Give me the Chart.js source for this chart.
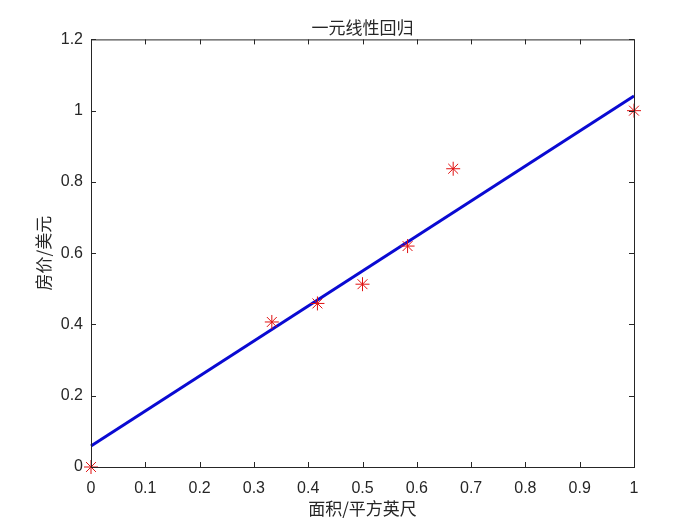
<!DOCTYPE html>
<html>
<head>
<meta charset="utf-8">
<script src="https://cdn.jsdelivr.net/npm/chart.js@4"></script>
<style>
  body { margin: 0; background: #fff; }
</style>
</head>
<body>
<canvas id="regChart" width="700" height="525"></canvas>
<script>
// normalized area vs price samples
const areaX = [0, 0.333, 0.417, 0.5, 0.583, 0.667, 1];
const priceY = [0, 0.407, 0.459, 0.513, 0.62, 0.837, 1];
// fitted line end points
const fitX = [0, 1];
const fitY = [0.059, 1.041];
const xTicks = [0, 0.1, 0.2, 0.3, 0.4, 0.5, 0.6, 0.7, 0.8, 0.9, 1];
const xTickLabels = ["0", "0.1", "0.2", "0.3", "0.4", "0.5", "0.6", "0.7", "0.8", "0.9", "1"];
const yTicks = [0, 0.2, 0.4, 0.6, 0.8, 1, 1.2];
const yTickLabels = ["0", "0.2", "0.4", "0.6", "0.8", "1", "1.2"];

const axisColor = "#262626";
const latin = "'Liberation Sans', Arial, sans-serif";
const cjk = "'Noto Sans CJK SC', sans-serif";

// MATLAB-like box with inward ticks
const boxPlugin = {
  id: "box",
  afterDatasetsDraw(chart) {
    const { ctx, chartArea: a, scales } = chart;
    ctx.save();
    ctx.strokeStyle = axisColor;
    ctx.lineWidth = 1;
    ctx.strokeRect(a.left + 0.5, a.top + 0.5, a.right - a.left, a.bottom - a.top);
    const len = 5;
    ctx.beginPath();
    xTicks.forEach(function (v) {
      const px = Math.round(scales.x.getPixelForValue(v)) + 0.5;
      ctx.moveTo(px, a.bottom); ctx.lineTo(px, a.bottom - len);
      ctx.moveTo(px, a.top); ctx.lineTo(px, a.top + len);
    });
    yTicks.forEach(function (v) {
      const py = Math.round(scales.y.getPixelForValue(v)) + 0.5;
      ctx.moveTo(a.left, py); ctx.lineTo(a.left + len, py);
      ctx.moveTo(a.right, py); ctx.lineTo(a.right - len, py);
    });
    ctx.stroke();
    ctx.restore();
  }
};

const chart = new Chart(document.getElementById("regChart").getContext("2d"), {
  type: "scatter",
  data: {
    datasets: [
      {
        type: "line",
        label: "fit",
        data: fitX.map(function (x, i) { return { x: x, y: fitY[i] }; }),
        borderColor: "#0a0ad2",
        borderWidth: 3,
        pointRadius: 0,
        fill: false,
        tension: 0,
        clip: false,
        order: 2
      },
      {
        label: "samples",
        data: areaX.map(function (x, i) { return { x: x, y: priceY[i] }; }),
        pointStyle: "star",
        pointRadius: 7,
        borderColor: "#e01010",
        backgroundColor: "#e01010",
        borderWidth: 1,
        clip: false,
        order: 1
      }
    ]
  },
  options: {
    responsive: false,
    animation: false,
    layout: { padding: { top: 0, right: 66, bottom: 0, left: 0 } },
    plugins: {
      legend: { display: false },
      tooltip: { enabled: false },
      title: {
        display: true,
        fullSize: false,
        text: "一元线性回归",
        color: axisColor,
        font: { family: cjk, size: 17, weight: "normal" },
        padding: { top: 17, bottom: 2 }
      }
    },
    scales: {
      x: {
        type: "linear",
        min: 0,
        max: 1,
        afterBuildTicks: function (s) { s.ticks = xTicks.map(function (v) { return { value: v }; }); },
        afterFit: function (s) { s.height = 58; },
        grid: { display: false, drawTicks: false },
        border: { display: false },
        ticks: {
          color: axisColor,
          padding: 12,
          maxRotation: 0,
          font: { family: latin, size: 16 },
          callback: function (v, i) { return xTickLabels[i]; }
        },
        title: {
          display: true,
          text: "面积/平方英尺",
          color: axisColor,
          font: { family: cjk, size: 17 },
          padding: { top: 6, bottom: 6 }
        }
      },
      y: {
        type: "linear",
        min: 0,
        max: 1.2,
        afterBuildTicks: function (s) { s.ticks = yTicks.map(function (v) { return { value: v }; }); },
        afterFit: function (s) { s.width = 91; },
        grid: { display: false, drawTicks: false },
        border: { display: false },
        ticks: {
          color: axisColor,
          padding: 8,
          font: { family: latin, size: 16 },
          callback: function (v, i) { return yTickLabels[i]; }
        },
        title: {
          display: true,
          text: "房价/美元",
          color: axisColor,
          font: { family: cjk, size: 17 },
          padding: { top: 33, bottom: 33 }
        }
      }
    }
  },
  plugins: [boxPlugin]
});
</script>
</body>
</html>
